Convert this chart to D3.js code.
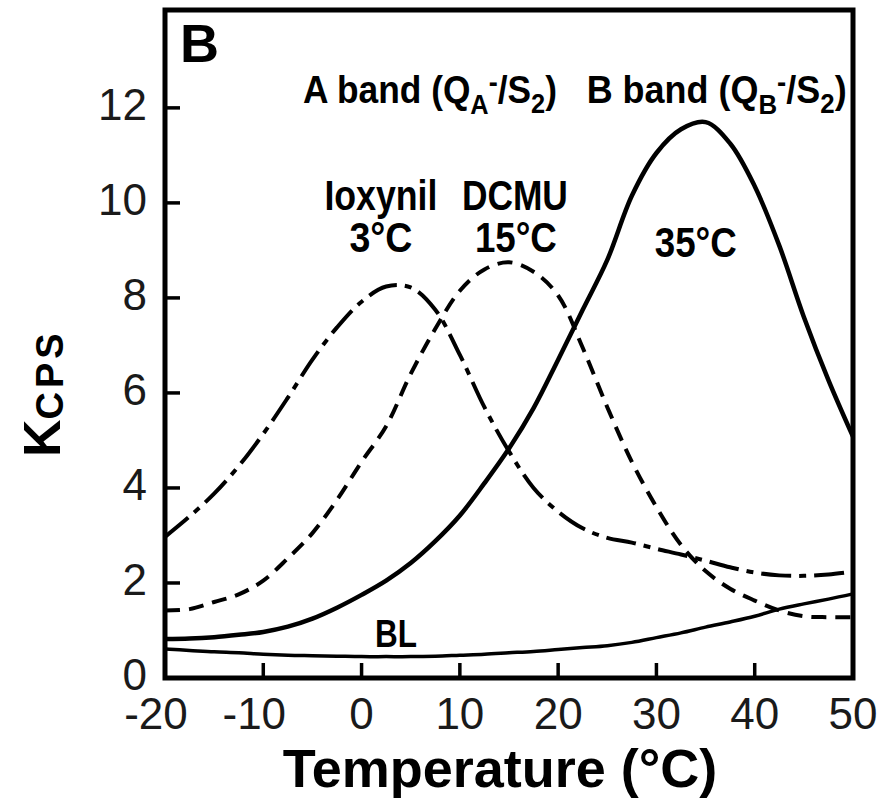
<!DOCTYPE html>
<html>
<head>
<meta charset="utf-8">
<script src="https://cdn.jsdelivr.net/npm/d3@7/dist/d3.min.js"></script>
<style>
    body { margin: 0; background: #fff; }
    svg { display: block; }
</style>
</head>
<body>
<svg id="chart" width="891" height="798"></svg>
<script>
// Температуры (ось X), общие для всех кривых
const temps = [-20, -17.5, -15, -12.5, -10, -7.5, -5, -2.5, 0, 2.5, 5, 7.5, 10, 12.5, 15,
    17.5, 20, 22.5, 25, 27.5, 30, 32.5, 35, 37.5, 40, 42.5, 45, 47.5, 50];

// B band, 35°C (сплошная толстая)
const bandB = [0.82, 0.83, 0.86, 0.91, 0.97, 1.08, 1.25, 1.48, 1.75, 2.05, 2.42, 2.88, 3.42, 4.1, 4.83,
    5.68, 6.7, 7.75, 8.8, 10.15, 11.05, 11.55, 11.7, 11.25, 10.35, 9.1, 7.6, 6.27, 5.08];

// DCMU, 15°C (штриховая)
const dcmu = [1.42, 1.45, 1.6, 1.76, 2.05, 2.52, 3.05, 3.75, 4.55, 5.3, 6.4, 7.35, 8.15, 8.6, 8.75,
    8.55, 8.05, 6.95, 5.7, 4.55, 3.6, 2.8, 2.25, 1.88, 1.63, 1.42, 1.3, 1.28, 1.28];

// Ioxynil, 3°C (штрих-пунктир)
const ioxynil = [2.97, 3.4, 3.88, 4.46, 5.14, 5.9, 6.7, 7.38, 7.92, 8.24, 8.22, 7.75, 6.8, 5.7, 4.77,
    4.0, 3.5, 3.15, 2.95, 2.85, 2.72, 2.6, 2.47, 2.33, 2.22, 2.16, 2.15, 2.18, 2.24];

// BL (базовая линия, тонкая сплошная)
const baseLine = [0.61, 0.58, 0.55, 0.53, 0.5, 0.48, 0.47, 0.46, 0.45, 0.45, 0.45, 0.46, 0.48, 0.5, 0.53,
    0.56, 0.6, 0.64, 0.68, 0.75, 0.85, 0.95, 1.07, 1.18, 1.3, 1.45, 1.56, 1.66, 1.77];

const xTicks = [-20, -10, 0, 10, 20, 30, 40, 50];
const yTicks = [0, 2, 4, 6, 8, 10, 12];

const FONT = "'Liberation Sans', Arial, Helvetica, sans-serif";

function drawGraph() {
    const svg = d3.select("#chart");
    svg.selectAll("*").remove();

    // Область построения
    const plot = {left: 165, right: 853, top: 10, bottom: 678};

    const scaleX = d3.scaleLinear().domain([-20, 50]).range([plot.left, plot.right]);
    const scaleY = d3.scaleLinear().domain([0, 14.06]).range([plot.bottom, plot.top]);

    // Кривые
    createLine(svg, baseLine, scaleX, scaleY, {width: 3.5, dash: null});
    createLine(svg, ioxynil, scaleX, scaleY, {width: 4, dash: "30,8,7,8"});
    createLine(svg, dcmu, scaleX, scaleY, {width: 4, dash: "15,9"});
    createLine(svg, bandB, scaleX, scaleY, {width: 4.5, dash: null});

    createAxes(svg, plot, scaleX, scaleY);
    createLabels(svg, scaleX, scaleY);
}

function createLine(svg, values, scaleX, scaleY, style) {
    const line = d3.line()
        .x((d, i) => scaleX(temps[i]))
        .y(d => scaleY(d))
        .curve(d3.curveCatmullRom.alpha(0.5));

    svg.append("path")
        .datum(values)
        .attr("fill", "none")
        .attr("stroke", "#000")
        .attr("stroke-width", style.width)
        .attr("stroke-dasharray", style.dash)
        .attr("d", line);
}

function createAxes(svg, plot, scaleX, scaleY) {
    const tickLen = 15;

    // Засечки внутрь (без крайних, они лежат на рамке)
    svg.append("g").selectAll("line")
        .data(xTicks.filter(d => d !== -20 && d !== 50))
        .enter()
        .append("line")
        .attr("x1", d => scaleX(d))
        .attr("x2", d => scaleX(d))
        .attr("y1", plot.bottom)
        .attr("y2", plot.bottom - tickLen)
        .attr("stroke", "#000")
        .attr("stroke-width", 3.5);

    svg.append("g").selectAll("line")
        .data(yTicks.filter(d => d !== 0))
        .enter()
        .append("line")
        .attr("x1", plot.left)
        .attr("x2", plot.left + tickLen)
        .attr("y1", d => scaleY(d))
        .attr("y2", d => scaleY(d))
        .attr("stroke", "#000")
        .attr("stroke-width", 3.5);

    // Рамка
    svg.append("rect")
        .attr("x", plot.left)
        .attr("y", plot.top)
        .attr("width", plot.right - plot.left)
        .attr("height", plot.bottom - plot.top)
        .attr("fill", "none")
        .attr("stroke", "#000")
        .attr("stroke-width", 5);

    // Подписи делений X
    svg.append("g").selectAll("text")
        .data(xTicks)
        .enter()
        .append("text")
        .attr("x", d => scaleX(d) + (d < 0 ? -9 : 0))
        .attr("y", 729)
        .attr("text-anchor", "middle")
        .attr("font-family", FONT)
        .attr("font-size", 44)
        .attr("fill", "#1a1a1a")
        .text(d => d);

    // Подписи делений Y
    svg.append("g").selectAll("text")
        .data(yTicks)
        .enter()
        .append("text")
        .attr("x", 147)
        .attr("y", d => scaleY(d) + 12)
        .attr("text-anchor", "end")
        .attr("font-family", FONT)
        .attr("font-size", 44)
        .attr("fill", "#1a1a1a")
        .text(d => d);

    // Название оси X
    svg.append("text")
        .attr("x", 500)
        .attr("y", 787)
        .attr("text-anchor", "middle")
        .attr("font-family", FONT)
        .attr("font-weight", "bold")
        .attr("font-size", 54)
        .text("Temperature (°C)");

    // Название оси Y: K + CPS
    const titleY = svg.append("text")
        .attr("transform", "translate(60,457) rotate(-90)")
        .attr("font-family", FONT)
        .attr("font-weight", "bold");
    titleY.append("tspan").attr("font-size", 52).text("K");
    titleY.append("tspan").attr("font-size", 38).attr("dy", 3)
        .attr("letter-spacing", 4).text("CPS");
}

function createLabels(svg, scaleX, scaleY) {
    // Буква панели
    svg.append("text")
        .attr("x", scaleX(-18.47))
        .attr("y", scaleY(12.97))
        .attr("font-family", FONT)
        .attr("font-weight", "bold")
        .attr("font-size", 54)
        .text("B");

    // Простые подписи у пиков
    const labels = [
        {text: "Ioxynil", t: 1.97, v: 9.85, w: 113},
        {text: "3°C", t: 1.97, v: 8.97, w: 63},
        {text: "DCMU", t: 15.6, v: 9.85, w: 106},
        {text: "15°C", t: 15.7, v: 8.97, w: 82},
        {text: "35°C", t: 34.0, v: 8.86, w: 82},
        {text: "BL", t: 3.5, v: 0.65, w: 42}
    ];
    svg.append("g").selectAll("text")
        .data(labels)
        .enter()
        .append("text")
        .attr("x", d => scaleX(d.t))
        .attr("y", d => scaleY(d.v))
        .attr("text-anchor", "middle")
        .attr("font-family", FONT)
        .attr("font-weight", "bold")
        .attr("font-size", d => d.text === "BL" ? 39 : 42)
        .attr("textLength", d => d.w)
        .attr("lengthAdjust", "spacingAndGlyphs")
        .text(d => d.text);

    // Подписи полос с индексами
    const bands = [
        {main: "A band (Q", sub: "A", t: -5.96, w: 254},
        {main: "B band (Q", sub: "B", t: 22.9, w: 260}
    ];
    bands.forEach(b => {
        const txt = svg.append("text")
            .attr("x", scaleX(b.t))
            .attr("y", scaleY(12.1))
            .attr("font-family", FONT)
            .attr("font-weight", "bold")
            .attr("font-size", 39)
            .attr("textLength", b.w)
            .attr("lengthAdjust", "spacingAndGlyphs");
        txt.append("tspan").text(b.main);
        txt.append("tspan").attr("font-size", 28).attr("dy", 11).text(b.sub);
        txt.append("tspan").attr("font-size", 30).attr("dy", -22).text("-");
        txt.append("tspan").attr("dy", 11).text("/S");
        txt.append("tspan").attr("font-size", 28).attr("dy", 10).text("2");
        txt.append("tspan").attr("dy", -10).text(")");
    });
}

drawGraph();
</script>
</body>
</html>
